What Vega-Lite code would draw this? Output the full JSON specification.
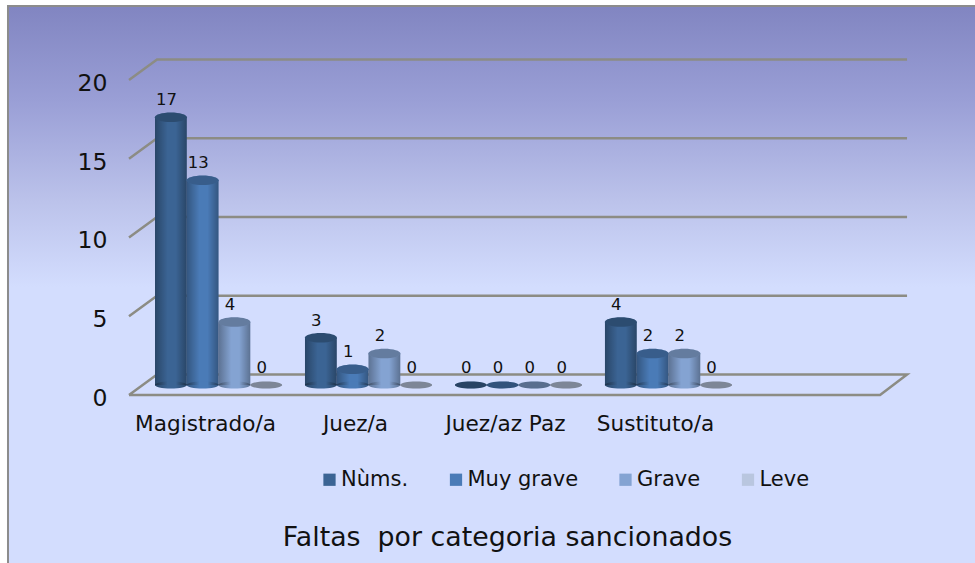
{
"$schema":"https://vega.github.io/schema/vega-lite/v6.json",
"width":975,"height":563,"autosize":"none","padding":0,"background":"#ffffff",
"title":{"text":"Faltas \u00a0por categoria sancionados","orient":"bottom","anchor":"middle","offset":-23,"dx":20,"baseline":"alphabetic","fontSize":26.8,"font":"DejaVu Sans","fontWeight":"normal","color":"#111111"},
"config":{"view":{"stroke":null},"font":"DejaVu Sans"},
"datasets":{
"faltas":[
{"categoria":"Magistrado/a","serie":"Nùms.","valor":17},
{"categoria":"Magistrado/a","serie":"Muy grave","valor":13},
{"categoria":"Magistrado/a","serie":"Grave","valor":4},
{"categoria":"Magistrado/a","serie":"Leve","valor":0},
{"categoria":"Juez/a","serie":"Nùms.","valor":3},
{"categoria":"Juez/a","serie":"Muy grave","valor":1},
{"categoria":"Juez/a","serie":"Grave","valor":2},
{"categoria":"Juez/a","serie":"Leve","valor":0},
{"categoria":"Juez/az Paz","serie":"Nùms.","valor":0},
{"categoria":"Juez/az Paz","serie":"Muy grave","valor":0},
{"categoria":"Juez/az Paz","serie":"Grave","valor":0},
{"categoria":"Juez/az Paz","serie":"Leve","valor":0},
{"categoria":"Sustituto/a","serie":"Nùms.","valor":4},
{"categoria":"Sustituto/a","serie":"Muy grave","valor":2},
{"categoria":"Sustituto/a","serie":"Grave","valor":2},
{"categoria":"Sustituto/a","serie":"Leve","valor":0}
],
"marco":[
{"linea":"g0","k":0,"u":0,"v":0},{"linea":"g0","k":1,"u":5.007,"v":0},{"linea":"g0","k":2,"u":5.187,"v":1.3},{"linea":"g0","k":3,"u":0.187,"v":1.3},{"linea":"g0","k":4,"u":0,"v":0},
{"linea":"g5","k":0,"u":0,"v":5},{"linea":"g5","k":1,"u":0.187,"v":6.3},{"linea":"g5","k":2,"u":5.187,"v":6.3},
{"linea":"g10","k":0,"u":0,"v":10},{"linea":"g10","k":1,"u":0.187,"v":11.3},{"linea":"g10","k":2,"u":5.187,"v":11.3},
{"linea":"g15","k":0,"u":0,"v":15},{"linea":"g15","k":1,"u":0.187,"v":16.3},{"linea":"g15","k":2,"u":5.187,"v":16.3},
{"linea":"g20","k":0,"u":0,"v":20},{"linea":"g20","k":1,"u":0.187,"v":21.3},{"linea":"g20","k":2,"u":5.187,"v":21.3}
],
"fondo":[{"u":-0.8067,"u2":5.67,"v":24.7,"v2":-11}]
},
"layer":[
{"data":{"name":"fondo"},
"mark":{"type":"rect","stroke":"#8c8c8c","strokeWidth":2,"fill":{"gradient":"linear","x1":0,"y1":0,"x2":0,"y2":1,"stops":[{"offset":0,"color":"#8185c1"},{"offset":0.17,"color":"#9a9fd6"},{"offset":0.35,"color":"#bcc3eb"},{"offset":0.5,"color":"#d3ddfe"},{"offset":1,"color":"#d3ddfe"}]}},
"encoding":{
"x":{"field":"u","type":"quantitative","axis":null,"scale":{"domain":[-0.86,5.64],"nice":false,"zero":false}},
"x2":{"field":"u2"},
"y":{"field":"v","type":"quantitative","axis":null,"scale":{"domain":[-10.667,25.079],"nice":false,"zero":false}},
"y2":{"field":"v2"}
}},
{"data":{"name":"marco"},
"mark":{"type":"line","color":"#8c8c84","strokeWidth":2.5,"strokeJoin":"miter"},
"encoding":{
"x":{"field":"u","type":"quantitative","axis":null,"scale":{"domain":[-0.86,5.64],"nice":false,"zero":false}},
"y":{"field":"v","type":"quantitative","scale":{"domain":[-10.667,25.079],"nice":false,"zero":false},
"axis":{"orient":"left","offset":-107,"zindex":1,"values":[0,5,10,15,20],"domain":false,"ticks":false,"grid":false,"title":null,"labelPadding":0,"labelFontSize":23.5,"labelColor":"#111111","labelFont":"DejaVu Sans","labelOffset":3.5}},
"detail":{"field":"linea"},
"order":{"field":"k","type":"quantitative"}
}},
{"data":{"name":"faltas"},
"encoding":{
"x":{"field":"categoria","type":"nominal","sort":["Magistrado/a","Juez/a","Juez/az Paz","Sustituto/a"],
"scale":{"range":[155,732],"paddingInner":0.153,"paddingOuter":0},
"axis":{"orient":"bottom","offset":-133,"zindex":1,"title":null,"domain":false,"ticks":false,"labelAngle":0,"labelPadding":0,"labelBaseline":"alphabetic","labelFontSize":21.6,"labelColor":"#111111","labelFont":"DejaVu Sans","labelOffset":-13}},
"xOffset":{"field":"serie","type":"nominal","sort":["Nùms.","Muy grave","Grave","Leve"]},
"y":{"field":"valor","type":"quantitative","stack":null,"axis":null,"scale":{"domain":[-11.302,24.444],"nice":false,"zero":false}}
},
"layer":[
{"transform":[{"filter":"datum.valor>0"}],"mark":{"type":"bar"},
"encoding":{"color":{"field":"serie","type":"nominal",
"scale":{"domain":["Nùms.","Muy grave","Grave","Leve"],"range":["#3b6494","#4a7bb7","#84a3d2","#b9c6df"]},
"legend":{"orient":"none","legendX":319,"legendY":469,"direction":"horizontal","columns":4,"columnPadding":36.5,"title":null,"symbolType":"square","symbolSize":150,"symbolStrokeWidth":0,"symbolOpacity":1,"labelFontSize":21,"labelFont":"DejaVu Sans","labelColor":"#111111","labelOffset":1}}}},
{"transform":[{"filter":"datum.valor>0"}],"mark":{"type":"point","filled":true,"opacity":1,"size":1024,"shape":"M-1,0A1,0.22,0,1,0,1,0A1,0.22,0,1,0,-1,0Z"},
"encoding":{"y":{"datum":0,"type":"quantitative"},"color":{"field":"serie","type":"nominal","legend":null}}},
{"transform":[{"filter":"datum.valor>0"}],"mark":{"type":"bar","fill":{"gradient":"linear","x1":0,"y1":0,"x2":1,"y2":0,"stops":[{"offset":0,"color":"rgba(0,0,0,0.3)"},{"offset":0.4,"color":"rgba(0,0,0,0)"},{"offset":0.65,"color":"rgba(0,0,0,0)"},{"offset":1,"color":"rgba(0,0,0,0.3)"}]}}},
{"transform":[{"filter":"datum.valor>0"}],"mark":{"type":"point","filled":true,"opacity":1,"size":1024,"shape":"M-1,0A1,0.22,0,1,0,1,0A1,0.22,0,1,0,-1,0Z","fill":{"gradient":"linear","x1":0,"y1":0,"x2":1,"y2":0,"stops":[{"offset":0,"color":"rgba(0,0,0,0.3)"},{"offset":0.4,"color":"rgba(0,0,0,0)"},{"offset":0.65,"color":"rgba(0,0,0,0)"},{"offset":1,"color":"rgba(0,0,0,0.3)"}]}},
"encoding":{"y":{"datum":0,"type":"quantitative"}}},
{"transform":[{"filter":"datum.valor>0"}],"mark":{"type":"point","filled":true,"opacity":1,"size":1024,"shape":"M-1,0A1,0.3,0,1,0,1,0A1,0.3,0,1,0,-1,0Z"},
"encoding":{"color":{"field":"serie","type":"nominal","legend":null}}},
{"transform":[{"filter":"datum.valor>0"}],"mark":{"type":"point","filled":true,"color":"#000000","opacity":0.24,"size":1024,"shape":"M-1,0A1,0.3,0,1,0,1,0A1,0.3,0,1,0,-1,0Z"}},
{"transform":[{"filter":"datum.valor==0"}],"mark":{"type":"point","filled":true,"opacity":1,"size":1024,"shape":"M-1,0A1,0.22,0,1,0,1,0A1,0.22,0,1,0,-1,0Z"},
"encoding":{"color":{"field":"serie","type":"nominal","legend":null}}},
{"transform":[{"filter":"datum.valor==0"}],"mark":{"type":"point","filled":true,"color":"#000000","opacity":0.32,"size":1024,"shape":"M-1,0A1,0.22,0,1,0,1,0A1,0.22,0,1,0,-1,0Z"}},
{"mark":{"type":"text","dx":-4.5,"dy":-12,"baseline":"alphabetic","align":"center","fontSize":16.5,"font":"DejaVu Sans","color":"#111111"},
"encoding":{"text":{"field":"valor","type":"quantitative"}}}
]}
],
"resolve":{"scale":{"x":"independent","y":"independent"}}
}
